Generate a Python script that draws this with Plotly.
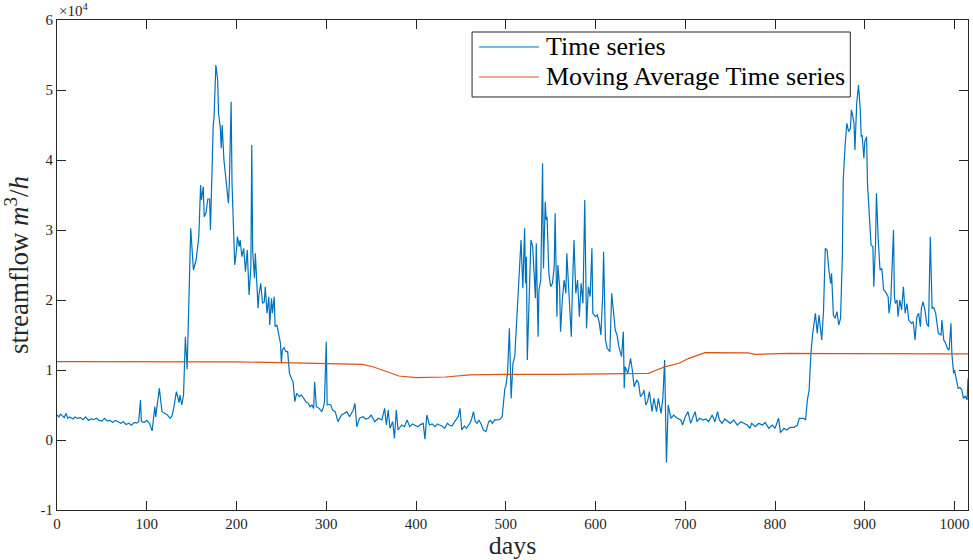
import plotly.graph_objects as go

# ---- data ----
days = [0,2,4,6,8,10,12,14,16,18,20,23,26,29,32,35,38,41,44,47,50,53,56,59,62,65,68,71,74,77,80,83,86,89,
        91,93,94,97,100,103,106,109,110,114,117,120,123,126,128,130,133,136,137,139,141,143,145,149,152,155,158,160,161,163,164,
        166,168,170,171,174,175,177,179,180,182,183,184,186,188,190,191,192,194,195,198,200,201,203,204,206,208,210,212,214,216,
        217,218,220,221,223,224,225,227,229,231,232,234,236,237,239,240,242,243,245,247,249,250,251,253,255,257,259,262,263,265,
        267,270,272,275,277,280,282,284,286,287,289,292,295,297,298,300,301,303,305,307,310,313,317,320,323,326,330,332,334,337,
        341,344,347,350,354,358,362,365,367,369,371,374,376,378,380,384,387,390,393,396,398,402,405,408,410,412,415,418,421,424,
        426,429,432,435,437,440,443,447,449,451,454,456,460,462,464,466,468,470,473,475,478,481,483,485,488,491,494,496,499,500,
        502,504,506,508,510,513,517,519,521,522,523,524,526,528,530,532,533,534,536,537,539,541,542,544,545,546,548,550,552,554,
        555,557,558,560,561,563,565,567,568,570,573,574,576,578,580,582,584,586,587,588,590,592,594,596,597,600,602,604,606,608,
        609,611,613,616,618,620,622,624,626,629,631,632,633,636,637,639,641,643,646,648,650,653,654,656,658,660,663,665,668,670,
        673,675,677,679,681,684,687,691,695,697,700,703,706,709,711,713,716,720,723,726,730,733,736,738,741,744,747,750,754,758,
        762,765,769,772,774,778,782,786,789,793,797,800,804,806,810,813,817,821,825,827,832,834,836,838,840,842,845,847,849,852,
        854,856,858,860,862,863,865,867,869,871,873,875,876,878,880,882,884,885,886,888,889,891,893,895,896,897,899,900,902,903,
        905,907,909,910,912,913,915,917,919,921,923,926,927,929,932,933,934,936,937,939,941,943,945,947,949,952,954,956,958,960,
        962,963,965,967,969,971,973,975,977,979,982,985,986,988,990,992,994,996,997,998,999,1000,1002,1004,1006,1008,1010,1012,1014,1015]

flow = [3600,3300,3700,3400,3200,3800,3100,3300,3200,3000,3300,3100,3200,2900,3300,2800,3000,2900,3100,2800,2700,3100,2700,2800,2500,2800,2600,2400,2600,2200,2400,2100,2500,2400,
        2600,5700,2700,2500,2800,2400,1300,4760,3300,7380,4050,3800,3570,3100,3400,4520,6900,5330,6430,5000,6430,14760,10100,30240,24290,25710,29040,36430,34290,36190,31900,
        32470,34430,34430,30000,44760,46190,53570,51430,46670,44520,41670,45000,40000,37620,34520,33810,36670,48330,36670,25000,27140,29040,27620,28570,26190,27380,24050,27140,20710,24760,
        42140,27140,23100,26670,21430,18810,20710,22380,19520,19760,21900,18100,20470,16430,20240,18100,20470,16190,16430,15330,13810,10960,12860,13190,12620,12620,9520,8570,8330,5480,
        6670,6190,6430,5950,5480,5240,4760,5000,4520,8330,4760,4520,4050,4760,5480,14050,5000,5100,5000,4300,4050,2620,3570,3800,4050,3330,4290,5240,1900,3100,
        3330,3000,3100,3570,2620,3100,2860,4520,2140,4290,1670,2620,240,4290,1430,2140,1900,2860,1900,2300,2140,1900,2200,2380,100,3570,2140,2300,1900,2300,
        2140,2000,1670,2400,2140,2000,2620,3330,4520,1430,2000,1670,2380,3000,4050,2620,2400,2860,2140,1430,1190,2620,2800,2380,2900,2860,3000,3330,7380,7620,
        9520,15950,5950,10960,11900,20000,28570,21670,30240,22380,26190,11430,20000,28570,27620,22860,20240,28100,14760,21430,22860,39520,24520,34050,31430,31900,23810,21900,22380,24760,
        32380,17620,25000,21900,15480,20000,22860,20950,26670,21900,14760,20480,28570,20950,22860,17620,22380,19520,25240,34290,15950,21900,20480,27380,18100,17620,17860,16900,15000,20710,
        26900,14290,13100,12620,20950,17860,15710,15000,13330,11900,15480,7380,10480,9520,10480,11670,10000,7620,8570,8100,6190,6670,7140,5000,5480,6900,4050,5950,4050,5950,
        3810,5950,11430,-3200,5000,3100,3570,3100,2860,2140,3330,4050,2380,3330,4050,2620,3100,2860,3000,2620,3570,2600,4050,2860,2380,3000,2620,2380,2860,2140,
        2620,2380,2140,1670,2380,1900,2380,2140,2500,1670,2140,1670,3100,1050,1670,1430,1800,1800,2140,3100,3100,2860,5710,7140,12380,15240,18100,15240,17860,14290,
        18330,27380,27140,24290,22380,23810,17860,17380,18330,16430,17380,26190,37140,41900,45240,44050,44520,47140,46670,45240,41430,48100,50710,47140,43330,43570,40240,42620,43330,36670,
        31900,27860,27620,21900,28100,35240,28570,24290,24520,21430,21190,20480,18100,20000,30000,20480,19520,20000,17620,20000,18570,21900,18100,19500,17140,16670,16900,14290,17620,18100,
        16190,18810,19760,18570,16670,16190,29050,18810,18900,18100,15240,15000,17140,14290,13810,13100,12860,16670,12380,10000,9520,10000,8810,7380,7500,7200,5950,6300,5700,8800]

ma_days = [0,100,200,250,300,330,340,352,367,381,400,433,460,497,560,600,648,659,668,678,693,704,722,752,770,778,815,870,1015]
ma_flow = [11190,11190,11150,11050,10900,10850,10800,10470,9760,9140,8900,9000,9290,9380,9380,9400,9430,9520,10000,10480,10960,11670,12480,12480,12450,12240,12380,12330,12290]

y_ticks = [-10000, 0, 10000, 20000, 30000, 40000, 50000, 60000]
y_tick_text = ["-1", "0", "1", "2", "3", "4", "5", "6"]
x_ticks = [0, 100, 200, 300, 400, 500, 600, 700, 800, 900, 1000]

series_names = ["Time series", "Moving Average Time series"]
series_colors = ["#0072BD", "#D95319"]

SERIF = "Liberation Serif, Times New Roman, serif"
AX = "#262626"

fig = go.Figure()
fig.add_trace(go.Scatter(x=days, y=flow, mode="lines", name=series_names[0],
                         line=dict(color=series_colors[0], width=1.2), showlegend=False))
fig.add_trace(go.Scatter(x=ma_days, y=ma_flow, mode="lines", name=series_names[1],
                         line=dict(color=series_colors[1], width=1.2), showlegend=False))

axis_common = dict(showline=True, linecolor=AX, linewidth=1, mirror="ticks", ticks="inside",
                   ticklen=9, tickcolor=AX, showgrid=False, zeroline=False,
                   tickfont=dict(family=SERIF, size=15, color=AX))

# MATLAB-style legend box (paper coordinates)
lx0, lx1, ly0, ly1 = 0.4556, 0.8708, 0.8429, 0.9755
row_y = [0.9449, 0.8837]
shapes = [dict(type="rect", xref="paper", yref="paper", x0=lx0, x1=lx1, y0=ly0, y1=ly1,
               line=dict(color=AX, width=1), fillcolor="white", layer="above")]
annotations = []
for name, color, yy in zip(series_names, series_colors, row_y):
    shapes.append(dict(type="line", xref="paper", yref="paper", x0=0.4633, x1=0.5290, y0=yy, y1=yy,
                       line=dict(color=color, width=1.2), layer="above"))
    annotations.append(dict(text=name, xref="paper", yref="paper", x=0.5345, y=yy,
                            xanchor="left", yanchor="middle", showarrow=False,
                            font=dict(family=SERIF, size=26, color="black")))
annotations.append(dict(text="×10<sup>4</sup>", xref="paper", yref="paper", x=0, y=1,
                        xanchor="left", yanchor="bottom", showarrow=False, yshift=-1,
                        font=dict(family=SERIF, size=15, color=AX)))

fig.update_layout(
    width=973, height=560,
    margin=dict(l=57, r=3, t=20, b=50),
    paper_bgcolor="white", plot_bgcolor="white",
    showlegend=False,
    xaxis=dict(range=[0, 1015], tickvals=x_ticks,
               title=dict(text="days", font=dict(family=SERIF, size=26, color=AX), standoff=7),
               **axis_common),
    yaxis=dict(range=[-10000, 60000], tickvals=y_ticks, ticktext=y_tick_text,
               title=dict(text="streamflow <i>m</i><sup>3</sup>/<i>h</i>",
                          font=dict(family=SERIF, size=27, color=AX), standoff=4),
               **axis_common),
    shapes=shapes,
    annotations=annotations,
)

fig.write_html("out.html", config={"displayModeBar": False},
               post_script="document.body.style.margin='0';document.body.style.padding='0';")
